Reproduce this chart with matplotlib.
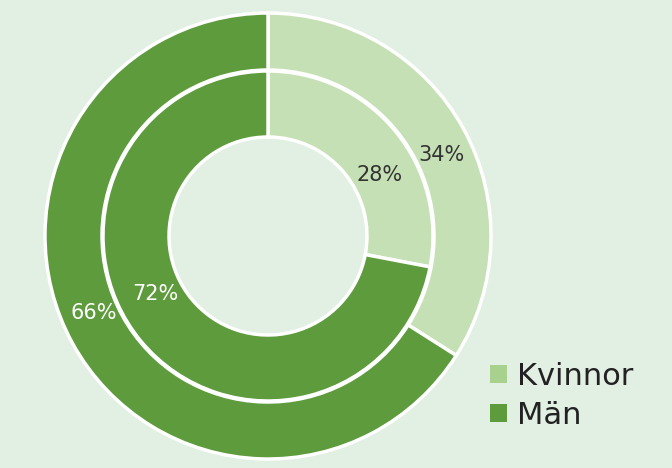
import matplotlib
matplotlib.use("Agg")
import matplotlib.pyplot as plt
from matplotlib.patches import Patch

categories = ["Kvinnor", "Män"]
outer_values = [34, 66]
inner_values = [28, 72]
outer_labels = ["34%", "66%"]
inner_labels = ["28%", "72%"]

bg = "#e2efe3"
pie_colors = ["#c5e0b4", "#5e9b3c"]
legend_colors = ["#a9d18e", "#5e9b3c"]

plt.rcParams['font.family'] = ['DejaVu Sans']
W, H = 672, 468
fig = plt.figure(figsize=(W / 100, H / 100), dpi=100, facecolor=bg)
ax = fig.add_axes([0, 0, 1, 1])
ax.set_facecolor(bg)

cx, cy = 268, H - 236
wp = dict(edgecolor="white", linewidth=2.5)
ax.pie(outer_values, colors=pie_colors, startangle=90, counterclock=False,
       radius=223, center=(cx, cy), wedgeprops=dict(width=57, **wp), frame=True)
ax.pie(inner_values, colors=pie_colors, startangle=90, counterclock=False,
       radius=165, center=(cx, cy), wedgeprops=dict(width=66, **wp), frame=True)
ax.set_xlim(0, W)
ax.set_ylim(0, H)
ax.set_aspect('equal')
ax.axis('off')

txt_colors = ["#333333", "white"]
# label positions (pixel coordinates in image space)
outer_pos = [(441, 155), (94, 313)]
inner_pos = [(380, 175), (155, 294)]
for lab, (x, y), c in zip(outer_labels, outer_pos, txt_colors):
    ax.text(x, H - y, lab, ha="center", va="center", fontsize=15, color=c)
for lab, (x, y), c in zip(inner_labels, inner_pos, txt_colors):
    ax.text(x, H - y, lab, ha="center", va="center", fontsize=15, color=c)

handles = [Patch(facecolor=c, edgecolor="none") for c in legend_colors]
fig.legend(handles, categories, loc="upper left",
           bbox_to_anchor=(490 / W, 1 - 362 / H), frameon=False,
           fontsize=22, handlelength=0.55, handleheight=0.55,
           handletextpad=0.35, labelspacing=0.33, borderpad=0,
           borderaxespad=0, labelcolor="#222222")

fig.savefig("out.png", dpi=100, facecolor=bg)
